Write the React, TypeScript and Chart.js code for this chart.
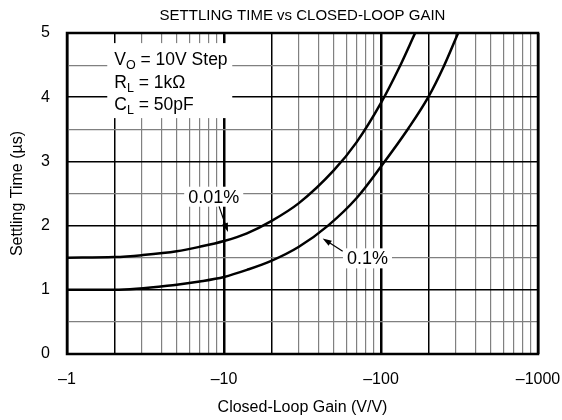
import React, { useEffect, useRef } from "react";
import { Chart, registerables } from "chart.js";

Chart.register(...registerables);

// ---- Data ----
const GAIN_001 = [1, 2, 3, 5, 7, 10, 14, 20, 30, 50, 70, 100, 130, 165];
const TIME_001 = [1.5, 1.51, 1.54, 1.6, 1.67, 1.76, 1.88, 2.07, 2.35, 2.86, 3.3, 3.91, 4.45, 5.0];

const GAIN_01 = [1, 2, 5, 7, 10, 14, 20, 30, 46, 70, 100, 150, 200, 250, 310];
const TIME_01 = [1.0, 1.0, 1.08, 1.13, 1.2, 1.31, 1.45, 1.67, 2.0, 2.43, 2.92, 3.52, 4.0, 4.47, 5.0];

const X_TICKS = [
  1, 2, 3, 4, 5, 6, 7, 8, 9,
  10, 20, 30, 40, 50, 60, 70, 80, 90,
  100, 200, 300, 400, 500, 600, 700, 800, 900,
  1000,
];
const X_DECADES = [1, 10, 100, 1000];
const X_TICK_LABELS = ["–1", "–10", "–100", "–1000"];
const Y_TICKS = [0, 0.5, 1, 1.5, 2, 2.5, 3, 3.5, 4, 4.5, 5];

const TITLE = "SETTLING TIME vs CLOSED-LOOP GAIN";
const X_TITLE = "Closed-Loop Gain (V/V)";
const Y_TITLE = "Settling Time (µs)";

const CONDITION_LINES: [string, string, string][] = [
  ["V", "O", " = 10V Step"],
  ["R", "L", " = 1kΩ"],
  ["C", "L", " = 50pF"],
];
const CONDITION_ANCHOR = { x: 2, y: 4.5 };

const LABEL_001 = { text: "0.01%", x: 8.6, y: 2.45, fromX: 9.3, fromY: 2.3, toX: 10.6, toY: 1.9 };
const LABEL_01 = { text: "0.1%", x: 82, y: 1.49, fromX: 57, fromY: 1.6, toX: 42.5, toY: 1.8 };

const FONT = "'Liberation Sans', Arial, sans-serif";

function drawArrow(ctx: CanvasRenderingContext2D, x1: number, y1: number, x2: number, y2: number) {
  const ang = Math.atan2(y2 - y1, x2 - x1);
  const head = 9;
  const half = 3;
  ctx.beginPath();
  ctx.moveTo(x1, y1);
  ctx.lineTo(x2 - Math.cos(ang) * head * 0.8, y2 - Math.sin(ang) * head * 0.8);
  ctx.lineWidth = 1.2;
  ctx.strokeStyle = "#000";
  ctx.stroke();
  ctx.beginPath();
  ctx.moveTo(x2, y2);
  ctx.lineTo(x2 - Math.cos(ang) * head - Math.sin(ang) * half, y2 - Math.sin(ang) * head + Math.cos(ang) * half);
  ctx.lineTo(x2 - Math.cos(ang) * head + Math.sin(ang) * half, y2 - Math.sin(ang) * head - Math.cos(ang) * half);
  ctx.closePath();
  ctx.fillStyle = "#000";
  ctx.fill();
}

const annotationPlugin = {
  id: "annotations",
  afterDatasetsDraw(chart: any) {
    const { ctx, chartArea, scales } = chart;
    const xs = scales.x;
    const ys = scales.y;
    ctx.save();

    // Conditions box
    const ax = xs.getPixelForValue(CONDITION_ANCHOR.x);
    const ay = ys.getPixelForValue(CONDITION_ANCHOR.y);
    ctx.fillStyle = "#fff";
    ctx.fillRect(ax - 7, ay - 22, 125, 75);
    ctx.fillStyle = "#000";
    ctx.textBaseline = "alphabetic";
    ctx.textAlign = "left";
    CONDITION_LINES.forEach((ln, i) => {
      const by = ay + i * 22.5;
      let cx = ax;
      ctx.font = `17.5px ${FONT}`;
      ctx.fillText(ln[0], cx, by);
      cx += ctx.measureText(ln[0]).width;
      ctx.font = `12.5px ${FONT}`;
      ctx.fillText(ln[1], cx, by + 4);
      cx += ctx.measureText(ln[1]).width;
      ctx.font = `17.5px ${FONT}`;
      ctx.fillText(ln[2], cx, by);
    });

    // Curve labels
    [LABEL_001, LABEL_01].forEach((lb) => {
      const px = xs.getPixelForValue(lb.x);
      const py = ys.getPixelForValue(lb.y);
      ctx.font = `18px ${FONT}`;
      const w = ctx.measureText(lb.text).width;
      ctx.fillStyle = "#fff";
      ctx.fillRect(px - w / 2 - 4, py - 10, w + 8, 20);
      ctx.fillStyle = "#000";
      ctx.textAlign = "center";
      ctx.textBaseline = "middle";
      ctx.fillText(lb.text, px, py + 1);
      drawArrow(
        ctx,
        xs.getPixelForValue(lb.fromX),
        ys.getPixelForValue(lb.fromY),
        xs.getPixelForValue(lb.toX),
        ys.getPixelForValue(lb.toY)
      );
    });

    // Plot border
    ctx.lineWidth = 2.5;
    ctx.strokeStyle = "#000";
    ctx.strokeRect(chartArea.left, chartArea.top, chartArea.right - chartArea.left, chartArea.bottom - chartArea.top);
    ctx.restore();
  },
};

export default function App() {
  const canvasRef = useRef<HTMLCanvasElement | null>(null);

  useEffect(() => {
    if (!canvasRef.current) return;
    const chart = new Chart(canvasRef.current, {
      type: "line",
      data: {
        datasets: [
          {
            label: "0.01%",
            data: GAIN_001.map((g, i) => ({ x: g, y: TIME_001[i] })),
            borderColor: "#000",
            borderWidth: 2.5,
            pointRadius: 0,
            cubicInterpolationMode: "monotone",
            fill: false,
          },
          {
            label: "0.1%",
            data: GAIN_01.map((g, i) => ({ x: g, y: TIME_01[i] })),
            borderColor: "#000",
            borderWidth: 2.5,
            pointRadius: 0,
            cubicInterpolationMode: "monotone",
            fill: false,
          },
        ],
      },
      options: {
        animation: false,
        responsive: false,
        devicePixelRatio: 1,
        layout: { padding: { left: 0, right: 24, top: 0, bottom: 0 } },
        plugins: {
          legend: { display: false },
          tooltip: { enabled: false },
          title: {
            display: true,
            text: TITLE,
            fullSize: false,
            color: "#000",
            font: { family: FONT, size: 15, weight: "normal" },
            padding: { top: 6.5, bottom: 8.5 },
          },
        },
        scales: {
          x: {
            type: "logarithmic",
            min: 1,
            max: 1000,
            afterBuildTicks: (axis: any) => {
              axis.ticks = X_TICKS.map((v) => ({ value: v }));
            },
            afterFit: (s: any) => {
              s.height = 66;
              s.paddingLeft = 0;
              s.paddingRight = 0;
            },
            border: { display: false },
            grid: {
              drawTicks: false,
              color: (c: any) => {
                const v = c.tick?.value;
                if (X_DECADES.includes(v) || v === 2 || v === 20 || v === 200) return "#000";
                return "#808080";
              },
              lineWidth: (c: any) => {
                const v = c.tick?.value;
                if (X_DECADES.includes(v)) return 2.5;
                if (v === 2 || v === 20 || v === 200) return 1.5;
                return 1.2;
              },
            },
            ticks: {
              autoSkip: false,
              maxRotation: 0,
              minRotation: 0,
              padding: 16,
              color: "#000",
              font: { family: FONT, size: 16 },
              callback: (v: any) => {
                const idx = X_DECADES.indexOf(Number(v));
                return idx >= 0 ? X_TICK_LABELS[idx] : "";
              },
            },
            title: {
              display: true,
              text: X_TITLE,
              color: "#000",
              font: { family: FONT, size: 16 },
              padding: { top: 0, bottom: 2.5 },
            },
          },
          y: {
            type: "linear",
            min: 0,
            max: 5,
            afterBuildTicks: (axis: any) => {
              axis.ticks = Y_TICKS.map((v) => ({ value: v }));
            },
            afterFit: (s: any) => {
              s.width = 67;
              s.paddingTop = 0;
              s.paddingBottom = 0;
            },
            border: { display: false },
            grid: {
              drawTicks: false,
              color: (c: any) => (Number.isInteger(c.tick?.value) ? "#000" : "#808080"),
              lineWidth: (c: any) => (Number.isInteger(c.tick?.value) ? 1.5 : 1.2),
            },
            ticks: {
              padding: 17,
              color: "#000",
              font: { family: FONT, size: 16 },
              callback: (v: any) => (Number.isInteger(Number(v)) ? String(v) : ""),
            },
            title: {
              display: true,
              text: Y_TITLE,
              color: "#000",
              font: { family: FONT, size: 16 },
              padding: { top: 8, bottom: 0 },
            },
          },
        },
      },
      plugins: [annotationPlugin],
    } as any);
    return () => chart.destroy();
  }, []);

  return (
    <div style={{ position: "absolute", left: 0, top: 0, width: 562, height: 420, background: "#fff" }}>
      <canvas ref={canvasRef} width={562} height={420} />
    </div>
  );
}
